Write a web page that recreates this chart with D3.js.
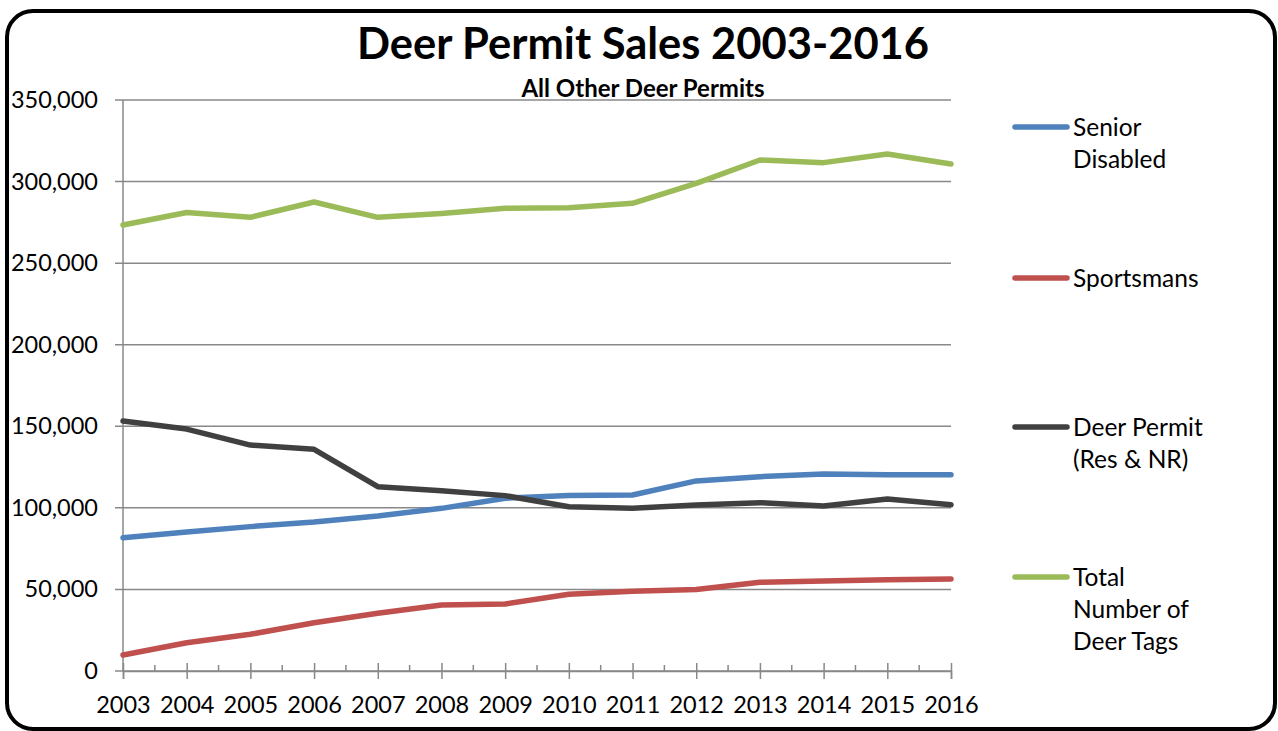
<!DOCTYPE html>
<html>
<head>
<meta charset="utf-8">
<script src="https://cdn.jsdelivr.net/npm/d3@7"></script>
<style>
  html, body { margin: 0; padding: 0; background: #fff; }
  svg { display: block; }
  text { font-family: Lato, "Open Sans", sans-serif; fill: #000; }
</style>
</head>
<body>
<svg id="chart" width="1278" height="731"></svg>
<script>
const years = [2003, 2004, 2005, 2006, 2007, 2008, 2009, 2010, 2011, 2012, 2013, 2014, 2015, 2016];
const seniorDisabled = [81700, 85200, 88500, 91300, 95000, 99700, 105900, 107500, 107900, 116500, 119100, 120800, 120300, 120300];
const sportsmans = [9800, 17300, 22500, 29600, 35400, 40500, 41100, 47000, 48900, 49900, 54400, 55200, 56000, 56400];
const deerPermit = [153200, 148300, 138500, 135900, 113000, 110500, 107500, 100700, 99700, 101800, 103200, 101100, 105400, 101900];
const totalTags = [273400, 281000, 278100, 287500, 278100, 280500, 283600, 284000, 286700, 298900, 313200, 311600, 316900, 310800];
const yTicks = [0, 50000, 100000, 150000, 200000, 250000, 300000, 350000];
const seriesNames = [["Senior", "Disabled"], ["Sportsmans"], ["Deer Permit", "(Res & NR)"], ["Total", "Number of", "Deer Tags"]];
const seriesColors = ["#4F81BD", "#C0504D", "#404040", "#9BBB59"];
const titleText = "Deer Permit Sales 2003-2016";
const subtitleText = "All Other Deer Permits";

const series = [seniorDisabled, sportsmans, deerPermit, totalTags];

const svg = d3.select("#chart");

// frame
svg.append("rect")
  .attr("x", 7).attr("y", 11)
  .attr("width", 1268).attr("height", 718)
  .attr("rx", 26).attr("ry", 26)
  .attr("fill", "#fff").attr("stroke", "#000").attr("stroke-width", 4);

const pLeft = 123, pRight = 951, pTop = 100, pBottom = 671;

const x = d3.scaleLinear().domain([years[0], years[years.length - 1]]).range([pLeft, pRight]);
const y = d3.scaleLinear().domain([0, 350000]).range([pBottom, pTop]);

// gridlines
svg.append("g").selectAll("line").data(yTicks).join("line")
  .attr("x1", pLeft - 8).attr("x2", pRight)
  .attr("y1", d => y(d)).attr("y2", d => y(d))
  .attr("stroke", "#888").attr("stroke-width", 1.5);

// y axis line
svg.append("line").attr("x1", pLeft).attr("x2", pLeft).attr("y1", pTop).attr("y2", pBottom)
  .attr("stroke", "#888").attr("stroke-width", 1.5);

// y labels
svg.append("g").selectAll("text").data(yTicks).join("text")
  .attr("x", 98).attr("y", d => y(d) + 8)
  .attr("text-anchor", "end")
  .attr("font-size", 23.5)
  .text(d => d3.format(",")(d));

// x axis ticks
const xAxis = d3.axisBottom(x).tickValues(years).tickFormat(d3.format("d")).tickSize(8).tickPadding(17);
const gx = svg.append("g").attr("transform", `translate(0,${pBottom})`).call(xAxis);
gx.select(".domain").attr("stroke", "#888").attr("stroke-width", 1.5);
gx.selectAll(".tick line").attr("stroke", "#888").attr("stroke-width", 1.5).attr("y1", -8).attr("y2", 8);
gx.selectAll(".tick text").attr("font-size", 23.5).attr("font-family", "Lato, sans-serif").attr("fill", "#000");
// minor ticks
const mids = years.slice(0, -1).map(d => d + 0.5);
svg.append("g").selectAll("line").data(mids).join("line")
  .attr("x1", d => x(d)).attr("x2", d => x(d))
  .attr("y1", pBottom - 6).attr("y2", pBottom)
  .attr("stroke", "#888").attr("stroke-width", 1.5);

// lines
const line = d3.line().x((d, i) => x(years[i])).y(d => y(d));
svg.append("g").selectAll("path").data(series).join("path")
  .attr("d", d => line(d))
  .attr("fill", "none")
  .attr("stroke", (d, i) => seriesColors[i])
  .attr("stroke-width", 5.5)
  .attr("stroke-linejoin", "round")
  .attr("stroke-linecap", "round");

// title
svg.append("text").attr("x", 643).attr("y", 59).attr("text-anchor", "middle")
  .attr("font-size", 43.5).attr("font-weight", "bold").text(titleText);
svg.append("text").attr("x", 643).attr("y", 97).attr("text-anchor", "middle")
  .attr("font-size", 24).attr("font-weight", "bold").text(subtitleText);

// legend
const legendY = [127, 278, 427, 577];
const lg = svg.append("g");
seriesNames.forEach((names, i) => {
  lg.append("line").attr("x1", 1015).attr("x2", 1067)
    .attr("y1", legendY[i]).attr("y2", legendY[i])
    .attr("stroke", seriesColors[i]).attr("stroke-width", 5.5).attr("stroke-linecap", "round");
  names.forEach((n, j) => {
    lg.append("text").attr("x", 1073).attr("y", legendY[i] + 9 + j * 32)
      .attr("font-size", 24.5).text(n);
  });
});
</script>
</body>
</html>
